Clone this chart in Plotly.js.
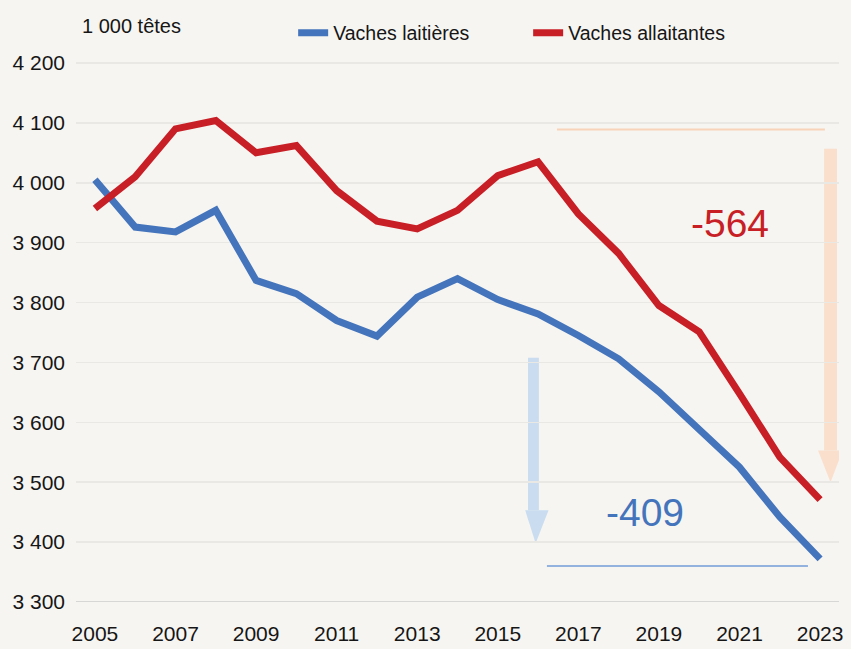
<!DOCTYPE html>
<html>
<head>
<meta charset="utf-8">
<script src="https://cdn.plot.ly/plotly-3.0.1.min.js"></script>
<style>html,body{margin:0;padding:0;background:#f6f5f1;}</style>
</head>
<body>
<div id="chart" style="width:851px;height:649px;"></div>
<script>
// ---- data ----
var years = [2005,2006,2007,2008,2009,2010,2011,2012,2013,2014,2015,2016,2017,2018,2019,2020,2021,2022,2023];
var vachesLaitieres = [4005,3926,3918,3954,3837,3815,3770,3744,3809,3840,3805,3781,3745,3706,3651,3587,3525,3442,3372];
var vachesAllaitantes = [3957,4010,4090,4104,4050,4062,3987,3936,3923,3954,4012,4035,3948,3882,3795,3751,3648,3542,3471];
var seriesNames = ['Vaches laitières', 'Vaches allaitantes'];
var yTickVals = [3300,3400,3500,3600,3700,3800,3900,4000,4100,4200];
var yTickText = ['3 300','3 400','3 500','3 600','3 700','3 800','3 900','4 000','4 100','4 200'];
var xTickVals = [2005,2007,2009,2011,2013,2015,2017,2019,2021,2023];
var unitLabel = '1 000 têtes';
var refYear = 2016;

// ---- styling ----
var FONT = '"Liberation Sans", Arial, sans-serif';
var BLUE = '#4474bb', RED = '#c81e26';
var BG = '#f6f5f1';
var INK = '#161616';

var iRef = years.indexOf(refYear), iLast = years.length - 1;
var dropBlue = vachesLaitieres[iLast] - vachesLaitieres[iRef];
var dropRed = vachesAllaitantes[iLast] - vachesAllaitantes[iRef];

var traces = [
  {x: years, y: vachesLaitieres, name: seriesNames[0], type: 'scatter', mode: 'lines',
   line: {color: BLUE, width: 7}},
  {x: years, y: vachesAllaitantes, name: seriesNames[1], type: 'scatter', mode: 'lines',
   line: {color: RED, width: 7}}
];

var shapes = [
  // peach reference line and arrow (red series)
  {type:'line', xref:'x', yref:'y', x0:2016.47, x1:2023.12, y0:4089, y1:4089, line:{color:'#f8d3b9', width:2}, layer:'below'},
  {type:'rect', xref:'x', yref:'y', x0:2023.10, x1:2023.42, y0:3553, y1:4057, fillcolor:'#fadfcc', line:{width:0}, layer:'below'},
  {type:'path', xref:'x', yref:'y', path:'M 2022.95 3553 L 2023.56 3553 L 2023.26 3500 Z', fillcolor:'#fadfcc', line:{width:0}, layer:'below'},
  // blue reference line and arrow (blue series)
  {type:'line', xref:'x', yref:'y', x0:2016.22, x1:2022.70, y0:3360, y1:3360, line:{color:'#93b3de', width:2}, layer:'below'},
  {type:'rect', xref:'x', yref:'y', x0:2015.75, x1:2016.02, y0:3453, y1:3708, fillcolor:'#c9dcf0', line:{width:0}, layer:'below'},
  {type:'path', xref:'x', yref:'y', path:'M 2015.68 3453 L 2016.26 3453 L 2015.94 3398 Z', fillcolor:'#c9dcf0', line:{width:0}, layer:'below'},
  // baseline
  {type:'line', xref:'paper', yref:'y', x0:0, x1:1, y0:3300, y1:3300, line:{color:'#cccccc', width:1.5}}
];

var annotations = [
  {text: unitLabel, xref:'paper', yref:'paper', x:0.005, y:1.051, xanchor:'left', yanchor:'middle',
   showarrow:false, font:{family:FONT, size:20, color:INK}},
  {text: String(dropRed), xref:'x', yref:'y', x:2020.77, y:3932, xanchor:'center', yanchor:'middle',
   showarrow:false, font:{family:FONT, size:39, color:RED}},
  {text: String(dropBlue), xref:'x', yref:'y', x:2018.65, y:3450, xanchor:'center', yanchor:'middle',
   showarrow:false, font:{family:FONT, size:39, color:BLUE}}
];

var layout = {
  width: 851, height: 649,
  margin: {l: 76, r: 12, t: 54, b: 47, autoexpand: false},
  paper_bgcolor: BG, plot_bgcolor: BG,
  font: {family: FONT, color: INK},
  showlegend: true,
  legend: {orientation:'h', x:0.2846, y:1.038, xanchor:'left', yanchor:'middle',
           entrywidth: 190, entrywidthmode: 'pixels',
           font:{family:FONT, size:19.5, color:INK}, bgcolor:'rgba(0,0,0,0)'},
  xaxis: {range:[2004.53, 2023.47], tickvals: xTickVals, ticktext: xTickVals.map(String),
          showgrid:false, zeroline:false, showline:false, ticks:'',
          tickfont:{family:FONT, size:21, color:INK}, ticklabelstandoff: 17, fixedrange:true},
  yaxis: {range:[3300, 4215], tickvals: yTickVals, ticktext: yTickText,
          showgrid:true, gridcolor:'#e9e8e4', gridwidth:1.5, zeroline:false, showline:false, ticks:'',
          tickfont:{family:FONT, size:21, color:INK}, ticklabelstandoff: 10, fixedrange:true},
  shapes: shapes,
  annotations: annotations
};

Plotly.newPlot('chart', traces, layout, {displayModeBar:false, staticPlot:true});
</script>
</body>
</html>
